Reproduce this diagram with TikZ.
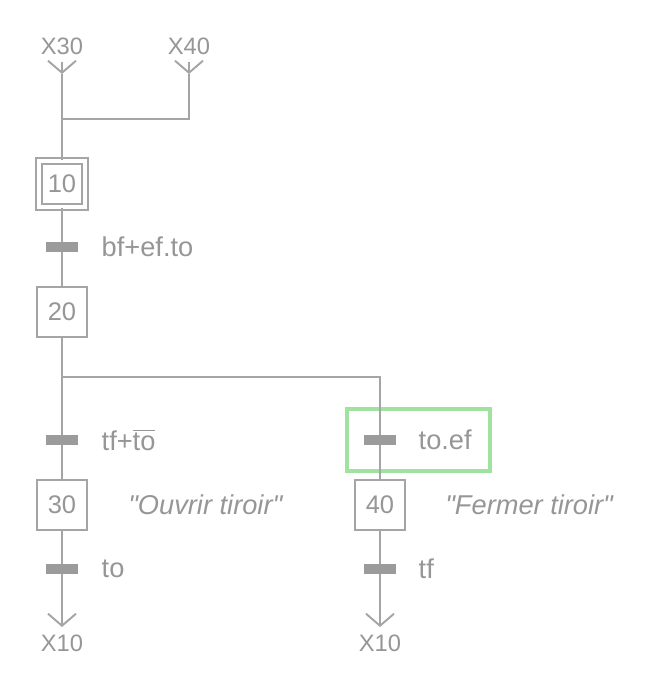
\documentclass[tikz,border=0pt]{standalone}
\usepackage{fontspec}
\setmainfont{Liberation Sans}[Ligatures=TeXOff]
\usetikzlibrary{arrows.meta, positioning}
\definecolor{grafline}{RGB}{165,165,165}
\definecolor{grafbar}{RGB}{155,155,155}
\definecolor{graftext}{RGB}{150,150,150}
\definecolor{hlgreen}{RGB}{160,226,160}

\begin{document}
\begin{tikzpicture}[x=0.02cm, y=-0.02cm,
  flow/.style={draw=grafline, line width=1.1pt},
  stepbox/.style={draw=grafline, line width=1.1pt, fill=white, minimum size=1cm,
                  inner sep=0pt, text=graftext, font=\fontsize{14.5}{17}\selectfont},
  initstep/.style={stepbox, double=white, double distance=2.3pt, minimum size=0.92cm},
  trans/.style={fill=grafbar, minimum width=0.64cm, minimum height=0.2cm, inner sep=0pt},
  cond/.style={text=graftext, inner sep=0pt, font=\fontsize{15.5}{18}\selectfont},
  act/.style={cond, font=\fontsize{15.5}{18}\selectfont\itshape},
  xref/.style={text=graftext, inner sep=0pt, font=\fontsize{13.5}{16}\selectfont},
  outarrow/.style={flow, -{Straight Barb[length=0.24cm, width=0.56cm]}},
  hlbox/.style={draw=hlgreen, line width=2.4pt}]
  \useasboundingbox (0,0) rectangle (646,680);

  % highlighted transition
  \draw[hlbox] (347,409) rectangle (490,471);

  % entry references
  \node[xref] (x30) at (62,46) {X30};
  \node[xref] (x40) at (189,46) {X40};
  \coordinate (top30) at (62,62);
  \coordinate (in30) at (62,74);
  \coordinate (top40) at (189,62);
  \coordinate (in40) at (189,74);
  \coordinate (j30) at (62,119);
  \coordinate (j40) at (189,119);

  % left sequence
  \node[initstep] (s10) at (62,184) {10};
  \node[trans] (t1) at (62,247) {};
  \node[cond, right=0.46cm of t1] (c1) {bf+ef.to};
  \node[stepbox] (s20) at (62,312) {20};
  \coordinate (divL) at (62,377);
  \coordinate (divR) at (380,377);
  \node[trans] (t2) at (62,440) {};
  \node[cond, right=0.46cm of t2] (c2) {tf+$\overline{\hbox{to}}$};
  \node[stepbox] (s30) at (62,505) {30};
  \node[act, right=0.8cm of s30] (a30) {"Ouvrir tiroir"};
  \node[trans] (t4) at (62,569) {};
  \node[cond, right=0.46cm of t4] (c4) {to};
  \coordinate (out30) at (62,627);
  \node[xref] (x10a) at (62,643) {X10};

  % right sequence
  \node[trans] (t3) at (380,440) {};
  \node[cond, right=0.44cm of t3] (c3) {to.ef};
  \node[stepbox] (s40) at (380,505) {40};
  \node[act, right=0.78cm of s40] (a40) {"Fermer tiroir"};
  \node[trans] (t5) at (380,569) {};
  \node[cond, right=0.44cm of t5] (c5) {tf};
  \coordinate (out40) at (380,627);
  \node[xref] (x10b) at (380,643) {X10};

  % links
  \draw[outarrow] (top30) -- (in30);
  \draw[outarrow] (top40) -- (in40);
  \draw[flow] (in40) -- (j40) -- (j30);
  \draw[flow] (in30) -- (s10) -- (t1) -- (s20) -- (divL) -- (t2) -- (s30) -- (t4);
  \draw[flow] (divL) -- (divR) -- (t3) -- (s40) -- (t5);
  \draw[outarrow] (t4) -- (out30);
  \draw[outarrow] (t5) -- (out40);
\end{tikzpicture}
\end{document}
